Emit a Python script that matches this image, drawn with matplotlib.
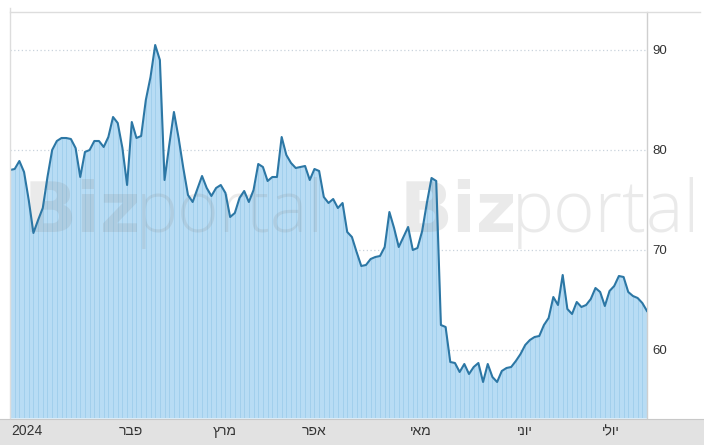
import matplotlib
matplotlib.use("Agg")
import matplotlib.pyplot as plt
from matplotlib.patches import Rectangle
from matplotlib.lines import Line2D
import numpy as np

# daily closing values (Jan - Jul 2024, trading days)
values = [78.0, 78.1, 78.9, 77.8, 75.0, 71.7, 73.0, 74.2, 77.3, 80.0,
          80.9, 81.2, 81.2, 81.1, 80.2, 77.3, 79.8, 80.0, 80.9, 80.9,
          80.3, 81.3, 83.3, 82.7, 80.2, 76.5, 82.8, 81.2, 81.4, 85.0,
          87.3, 90.5, 89.0, 77.0, 80.5, 83.8, 81.2, 78.2, 75.5, 74.8,
          76.1, 77.4, 76.2, 75.4, 76.2, 76.5, 75.7, 73.3, 73.7, 75.2,
          75.9, 74.8, 76.0, 78.6, 78.3, 76.9, 77.3, 77.3, 81.3, 79.5,
          78.7, 78.2, 78.3, 78.4, 77.0, 78.1, 77.9, 75.3, 74.7, 75.1,
          74.2, 74.7, 71.8, 71.3, 69.8, 68.4, 68.5, 69.1, 69.3, 69.4,
          70.3, 73.8, 72.2, 70.3, 71.3, 72.3, 70.0, 70.2, 71.9, 74.7,
          77.2, 76.9, 62.5, 62.3, 58.8, 58.7, 57.8, 58.6, 57.6, 58.3,
          58.7, 56.8, 58.6, 57.3, 56.8, 57.9, 58.2, 58.3, 58.9, 59.6,
          60.5, 61.0, 61.3, 61.4, 62.5, 63.2, 65.3, 64.5, 67.5, 64.1,
          63.6, 64.8, 64.3, 64.5, 65.1, 66.2, 65.8, 64.4, 65.9, 66.4,
          67.4, 67.3, 65.8, 65.4, 65.2, 64.7, 63.9]

# month labels and the index of the first trading day of each month
month_labels = ["2024", "פבר", "מרץ", "אפר", "מאי", "יוני", "יולי"]
month_idx = [0, 23, 43, 62, 85, 108, 126]

y_ticks = [60, 70, 80, 90]

W, H = 704, 445
fig = plt.figure(figsize=(W / 100, H / 100), dpi=100)
fig.patch.set_facecolor("white")

# plot area in pixels
left, right, top, bottom = 10, 647, 12, 418
ax = fig.add_axes([left / W, (H - bottom) / H, (right - left) / W, (bottom - top) / H])

x = np.arange(len(values))
ymin, ymax = 53.2, 93.8

ax.fill_between(x, values, ymin, color="#b8dcf4", lw=0, zorder=2)
ax.vlines(x, ymin, values, color="#a2cfec", lw=0.7, zorder=2.5)
ax.plot(x, values, color="#2c77a5", lw=1.5, zorder=4, solid_joinstyle="round")

ax.set_xlim(0, len(values) - 1)
ax.set_ylim(ymin, ymax)

ax.set_yticks(y_ticks)
ax.yaxis.tick_right()
ax.tick_params(axis="y", length=0, pad=4, labelsize=9.5, labelcolor="#333333")
for lab in ax.get_yticklabels():
    lab.set_fontfamily(["Liberation Sans", "DejaVu Sans"])
ax.set_xticks([])
ax.grid(axis="y", linestyle=(0, (1, 2)), color="#c9d3dc", lw=0.9, zorder=1)

for s in ["left", "top", "bottom"]:
    ax.spines[s].set_visible(False)
ax.spines["right"].set_color("#cfcfcf")
ax.spines["right"].set_linewidth(1)

# frame lines
fig.add_artist(Line2D([left / W, left / W], [(H - bottom) / H, 1 - 8 / H],
                      color="#dddddd", lw=1))
fig.add_artist(Line2D([left / W, 700 / W], [1 - top / H, 1 - top / H],
                      color="#dddddd", lw=1))

# bottom band with month names
band = Rectangle((0, 0), 1, (H - 419) / H, transform=fig.transFigure,
                 facecolor="#e2e2e2", edgecolor="none", zorder=-1)
fig.add_artist(band)
fig.add_artist(Line2D([0, 1], [(H - 419) / H, (H - 419) / H], color="#c8c8c8", lw=0.8, zorder=-1))
for lab, i in zip(month_labels, month_idx):
    txt = lab if lab.isdigit() else lab[::-1]
    ax.text(i + 0.3, -(431 - bottom) / (bottom - top), txt, transform=ax.get_xaxis_transform(),
            ha="left", va="center", fontsize=10, color="#333333", clip_on=False,
            family=["Liberation Sans", "DejaVu Sans"])

# watermark (between the fill and the line)
for x0 in [24, 400]:
    ax.text(x0 / W, 1 - 232 / H, "Biz", fontsize=50, fontweight="bold",
            color="#808080", alpha=0.16, zorder=3, family="DejaVu Sans",
            transform=fig.transFigure, clip_on=False)
    ax.text((x0 + 112) / W, 1 - 232 / H, "portal", fontsize=51, fontweight="light",
            color="#808080", alpha=0.16, zorder=3, family="Open Sans",
            transform=fig.transFigure, clip_on=False)

fig.savefig("out.png", dpi=100)
